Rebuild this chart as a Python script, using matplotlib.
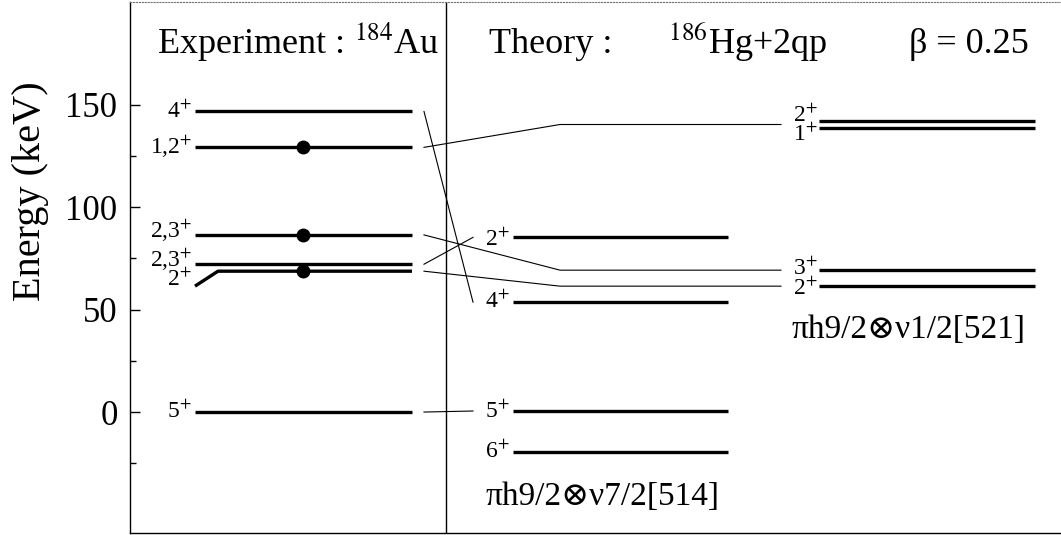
import matplotlib
matplotlib.use("Agg")
import matplotlib.pyplot as plt
import numpy as np

plt.rcParams["font.family"] = ["Liberation Serif", "DejaVu Serif"]
plt.rcParams["mathtext.fontset"] = "stix"

# --------- level energies (keV) --------- #
exp_labels = ["4", "1,2", "2,3", "2,3", "2", "5"]
exp_energy = [146.6, 129.1, 86.4, 72.1, 68.7, 0.0]
exp_dots = [129.1, 86.4, 68.7]
exp_kink_start = 61.4          # left end of the bent 2+ level

th1_labels = ["2", "4", "5", "6"]
th1_energy = [85.2, 53.6, 0.5, -19.5]

th2_labels = ["2", "1", "3", "2"]
th2_energy = [142.2, 138.3, 69.2, 61.4]

# which experimental level is linked to which theory level(s)
links_th1 = [(0, 1), (3, 0), (5, 2)]
links_th2 = [(1, [0, 1]), (2, [2]), (4, [3])]

# --------- layout (pixel-like x units, px offsets for labels) --------- #
EXP_X = (195, 412)
TH1_X = (513, 728)
TH2_X = (819, 1035)
DOT_X = 303
LINK_X0 = 424
TH1_LINK_X1 = 473
TH2_BEND = 560
TH2_LINK_X1 = 781
DIVIDER_X = 446

exp_off = [6, 6, 3, 3, 15, 6]
th1_off = [8, 6, 7, 6]
th2_off = [1, 12, 5, 9]

YMIN, YMAX = -59, 200
PX_PER_KEV = 531 / (YMAX - YMIN)


def px(off):
    """Vertical pixel offset -> keV."""
    return off / PX_PER_KEV


fig = plt.figure(figsize=(10.61, 5.35), dpi=100)
ax = fig.add_axes([130 / 1061, 2 / 535, 931 / 1061, 531 / 535])
ax.set_xlim(130, 1061)
ax.set_ylim(YMIN, YMAX)

LW_LEVEL = 2.4
LW_LINK = 0.8
LAB_FS = 17

# experiment column
for i, (lab, e) in enumerate(zip(exp_labels, exp_energy)):
    if i == 4:
        ax.plot([EXP_X[0], 218, EXP_X[1]], [exp_kink_start, e, e],
                color="k", lw=LW_LEVEL, solid_capstyle="butt")
    else:
        ax.plot(EXP_X, [e, e], color="k", lw=LW_LEVEL, solid_capstyle="butt")
    ax.text(EXP_X[0] - 3, e - px(exp_off[i]), lab + r"$^{+}$",
            ha="right", va="baseline", fontsize=LAB_FS)
ax.plot([DOT_X] * len(exp_dots), exp_dots, "o", color="k", markersize=9)

# theory, first band
for i, (lab, e) in enumerate(zip(th1_labels, th1_energy)):
    ax.plot(TH1_X, [e, e], color="k", lw=LW_LEVEL, solid_capstyle="butt")
    ax.text(TH1_X[0] - 3, e - px(th1_off[i]), lab + r"$^{+}$",
            ha="right", va="baseline", fontsize=LAB_FS)

# theory, second band
for i, (lab, e) in enumerate(zip(th2_labels, th2_energy)):
    ax.plot(TH2_X, [e, e], color="k", lw=LW_LEVEL, solid_capstyle="butt")
    ax.text(TH2_X[0] - 1, e - px(th2_off[i]), lab + r"$^{+}$",
            ha="right", va="baseline", fontsize=LAB_FS)

# connecting lines
for ie, it in links_th1:
    ax.plot([LINK_X0, TH1_LINK_X1], [exp_energy[ie], th1_energy[it]],
            color="k", lw=LW_LINK)
for ie, its in links_th2:
    target = np.mean([th2_energy[j] for j in its])
    ax.plot([LINK_X0, TH2_BEND, TH2_LINK_X1],
            [exp_energy[ie], target, target], color="k", lw=LW_LINK)

ax.axvline(DIVIDER_X, color="k", lw=1)

# headings
TITLE_FS = 26
ax.text(157, 174.9, r"Experiment : $^{184}$Au", fontsize=TITLE_FS, va="baseline")
ax.text(489, 174.9, "Theory :", fontsize=TITLE_FS, va="baseline")
ax.text(668, 174.9, r"$^{186}$Hg+2qp", fontsize=TITLE_FS, va="baseline")
ax.text(909, 174.9, "β = 0.25", fontsize=TITLE_FS, va="baseline")

CONF_FS = 24
ax.text(485, -45.3, "πh9/2⊗ν7/2[514]", fontsize=CONF_FS, va="baseline")
ax.text(792, 36.0, "πh9/2⊗ν1/2[521]", fontsize=CONF_FS, va="baseline")

# axes styling
ax.set_xticks([])
ax.set_yticks([0, 50, 100, 150])
ax.set_yticks([-25, 25, 75, 125], minor=True)
ax.tick_params(axis="y", which="major", direction="in", length=7, width=1,
               pad=9, labelsize=25)
ax.tick_params(axis="y", which="minor", direction="in", length=4, width=1)
ax.spines["right"].set_visible(False)
ax.spines["top"].set_linestyle(":")
ax.spines["top"].set_color("0.45")
ax.spines["top"].set_linewidth(0.8)
ax.spines["left"].set_linewidth(1)
ax.spines["bottom"].set_linewidth(1)

fig.text(31 / 1061, 1 - 191 / 535, "Energy (keV)", rotation=90,
         ha="center", va="center", fontsize=29)

fig.savefig("out.png", dpi=100)
